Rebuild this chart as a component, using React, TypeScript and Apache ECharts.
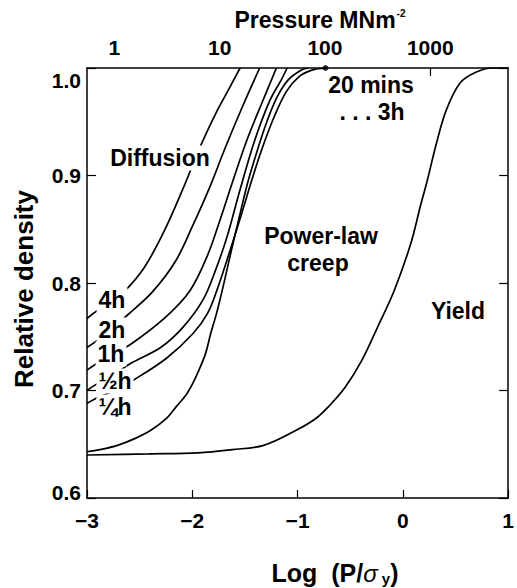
import React, { useEffect, useRef } from 'react';
import * as echarts from 'echarts';

const FONT = '"Liberation Sans", Arial, Helvetica, sans-serif';

// Axis ranges
const X_MIN = -3;
const X_MAX = 1;
const Y_MIN = 0.6;
const Y_MAX = 1.0;

// Top axis: pressure (MN/m^2); log10 of yield stress used to place them
const PRESSURE_TICKS = [1, 10, 100, 1000];
const LOG_SIGMA_Y = 2.74;

// Diffusion curves (x = log(P/sigma_y), y = relative density)
const DIFF_4H: [number, number][] = [
  [-3, 0.767], [-2.907, 0.774], [-2.786, 0.781], [-2.646, 0.792], [-2.459, 0.814],
  [-2.273, 0.847], [-2.087, 0.888], [-1.919, 0.928], [-1.76, 0.961], [-1.649, 0.981], [-1.546, 1.0],
];
const DIFF_2H: [number, number][] = [
  [-3, 0.74], [-2.925, 0.745], [-2.786, 0.755], [-2.618, 0.77], [-2.385, 0.791],
  [-2.161, 0.82], [-1.993, 0.854], [-1.835, 0.889], [-1.686, 0.926], [-1.528, 0.963], [-1.36, 1.0],
];
const DIFF_1H: [number, number][] = [
  [-3, 0.719], [-2.925, 0.724], [-2.767, 0.733], [-2.571, 0.744], [-2.245, 0.769],
  [-2.021, 0.793], [-1.854, 0.826], [-1.742, 0.857], [-1.621, 0.893], [-1.481, 0.933],
  [-1.341, 0.967], [-1.201, 1.0],
];
const DIFF_HALF_H: [number, number][] = [
  [-3, 0.7], [-2.925, 0.705], [-2.758, 0.714], [-2.571, 0.726], [-2.301, 0.74],
  [-2.087, 0.759], [-1.9, 0.784], [-1.779, 0.812], [-1.667, 0.844], [-1.546, 0.887],
  [-1.406, 0.933], [-1.267, 0.969], [-1.155, 0.989], [-1.099, 1.0],
];
const DIFF_QUARTER_H: [number, number][] = [
  [-3, 0.688], [-2.907, 0.693], [-2.739, 0.7], [-2.553, 0.71], [-2.245, 0.73],
  [-1.993, 0.753], [-1.854, 0.772], [-1.76, 0.795], [-1.639, 0.831], [-1.536, 0.863],
  [-1.434, 0.896], [-1.341, 0.924], [-1.229, 0.953], [-1.107, 0.978], [-0.986, 0.992],
  [-0.865, 0.998], [-0.735, 1.0],
];
// Power-law creep curve
const POWER_LAW: [number, number][] = [
  [-3, 0.643], [-2.879, 0.645], [-2.711, 0.649], [-2.552, 0.655], [-2.394, 0.663],
  [-2.245, 0.674], [-2.152, 0.685], [-2.058, 0.696], [-1.993, 0.707], [-1.928, 0.721],
  [-1.872, 0.735], [-1.825, 0.753], [-1.769, 0.772], [-1.704, 0.798], [-1.639, 0.826],
  [-1.564, 0.857], [-1.48, 0.891], [-1.396, 0.919], [-1.303, 0.947], [-1.2, 0.972],
  [-1.089, 0.989], [-0.967, 0.998], [-0.902, 1.0],
];
// Yield curve
const YIELD: [number, number][] = [
  [-3, 0.64], [-2.413, 0.641], [-1.946, 0.642], [-1.62, 0.645], [-1.322, 0.649],
  [-1.014, 0.663], [-0.827, 0.674], [-0.706, 0.685], [-0.548, 0.703], [-0.39, 0.728],
  [-0.24, 0.759], [-0.082, 0.793], [0.076, 0.837], [0.17, 0.873], [0.226, 0.893],
  [0.319, 0.93], [0.413, 0.961], [0.543, 0.986], [0.692, 0.996], [0.851, 1.0], [1.0, 1.0],
];
// Full-density point at 100 MN/m^2
const DOT: [number, number][] = [[-0.735, 1.0]];

const pressurePos = (p: number) => Math.log10(p) - LOG_SIGMA_Y;

const lineSeries = (name: string, data: [number, number][]) => ({
  type: 'line',
  name,
  data,
  symbol: 'none',
  showSymbol: false,
  smooth: 0.35,
  silent: true,
  z: 3,
  lineStyle: { color: '#000', width: 1.7 },
});

const txt = (text: string, x: number, y: number, size = 23, bg = false, extra: any = {}) => ({
  type: 'text',
  x,
  y,
  z: 100,
  ...extra,
  style: {
    text,
    font: `bold ${size}px ${FONT}`,
    fill: '#000',
    align: 'center',
    verticalAlign: 'middle',
    textAlign: 'center',
    textVerticalAlign: 'middle',
    ...(bg ? { backgroundColor: '#fff', padding: [1, 2] } : {}),
  },
});

const axisLineStyle = { color: '#000', width: 1.5 };

export default function App() {
  const ref = useRef<HTMLDivElement>(null);
  useEffect(() => {
    if (!ref.current) return;
    const chart = echarts.init(ref.current, null, { renderer: 'svg' });
    const labelFont = { color: '#000', fontFamily: FONT, fontWeight: 'bold', fontSize: 21 };
    const option: any = {
      animation: false,
      backgroundColor: '#fff',
      grid: { left: 87, right: 1, top: 68, bottom: 90, containLabel: false },
      xAxis: [
        {
          type: 'value', min: X_MIN, max: X_MAX, interval: 1, position: 'bottom',
          axisLine: { show: true, onZero: false, lineStyle: axisLineStyle },
          axisTick: { show: true, inside: true, length: 8, lineStyle: { color: '#000', width: 1.2 } },
          axisLabel: {
            ...labelFont, margin: 12, showMinLabel: true, showMaxLabel: true,
            formatter: (v: number) => (v < 0 ? '\u2212' + Math.abs(v) : String(v)),
          },
          splitLine: { show: false },
        },
        {
          type: 'value', min: X_MIN, max: X_MAX, position: 'top',
          axisLine: { show: true, onZero: false, lineStyle: axisLineStyle },
          axisTick: {
            show: true, inside: true, length: 8, lineStyle: { color: '#000', width: 1.2 },
            customValues: [pressurePos(PRESSURE_TICKS[3])],
          },
          axisLabel: {
            ...labelFont, margin: 10,
            customValues: PRESSURE_TICKS.map(pressurePos),
            formatter: (v: number) => String(Math.round(Math.pow(10, v + LOG_SIGMA_Y))),
          },
          splitLine: { show: false },
        },
      ],
      yAxis: [
        {
          type: 'value', min: Y_MIN, max: Y_MAX, interval: 0.1, position: 'left',
          axisLine: { show: true, onZero: false, lineStyle: axisLineStyle },
          axisTick: { show: true, inside: true, length: 9, lineStyle: { color: '#000', width: 1.2 } },
          axisLabel: {
            ...labelFont, margin: 6,
            formatter: (v: number) => {
              const s = v.toFixed(1);
              if (Math.abs(v - 1) < 1e-6) return `{t|${s}}`;
              if (Math.abs(v - 0.6) < 1e-6) return `{b|${s}}`;
              return `{n|${s}}`;
            },
            rich: {
              n: { ...labelFont },
              t: { ...labelFont, padding: [24, 0, 0, 0] },
              b: { ...labelFont, padding: [0, 0, 12, 0] },
            },
          },
          splitLine: { show: false },
        },
        {
          type: 'value', min: Y_MIN, max: Y_MAX, interval: 0.1, position: 'right',
          axisLine: { show: true, onZero: false, lineStyle: axisLineStyle },
          axisTick: { show: true, inside: true, length: 9, lineStyle: { color: '#000', width: 1.2 } },
          axisLabel: { show: false },
          splitLine: { show: false },
        },
      ],
      series: [
        lineSeries('4h', DIFF_4H),
        lineSeries('2h', DIFF_2H),
        lineSeries('1h', DIFF_1H),
        lineSeries('½h', DIFF_HALF_H),
        lineSeries('¼h', DIFF_QUARTER_H),
        lineSeries('Power-law creep', POWER_LAW),
        lineSeries('Yield', YIELD),
        {
          type: 'scatter', name: '100 MNm-2', data: DOT, symbol: 'circle', symbolSize: 6,
          itemStyle: { color: '#000' }, z: 4, silent: true,
        },
      ],
      graphic: [
        {
          type: 'text', x: 320, y: 20, z: 100,
          style: {
            text: '{a|Pressure MNm}{s|-2}',
            fill: '#000', align: 'center', verticalAlign: 'middle',
            textAlign: 'center', textVerticalAlign: 'middle',
            rich: {
              a: { font: `bold 23px ${FONT}`, fill: '#000' },
              s: { font: `bold 10px ${FONT}`, fill: '#000', verticalAlign: 'top', padding: [0, 0, 10, 1] },
            },
          },
        },
        {
          type: 'text', x: 335, y: 573, z: 100,
          style: {
            text: '{a|Log  (P/}{i|\u03c3}{s| y}{a|)}',
            fill: '#000', align: 'center', verticalAlign: 'middle',
            textAlign: 'center', textVerticalAlign: 'middle',
            rich: {
              a: { font: `bold 25px ${FONT}`, fill: '#000' },
              i: { font: `italic 24px ${FONT}`, fill: '#000' },
              s: { font: `bold 15px ${FONT}`, fill: '#000', verticalAlign: 'bottom' },
            },
          },
        },
        txt('Relative density', 24, 289, 26, false, { rotation: Math.PI / 2 }),
        txt('Diffusion', 160, 158, 23, true),
        txt('4h', 112, 300, 23, true),
        txt('2h', 112, 330, 23, true),
        txt('1h', 111, 354, 23, true),
        txt('\u00bdh', 115, 381, 23, true),
        txt('\u00bch', 115, 407, 23, true),
        txt('Power-law', 321, 236, 23),
        txt('creep', 318, 263, 23),
        txt('Yield', 458, 311, 23),
        txt('20 mins', 371, 85, 23),
        txt('. . . 3h', 372, 112, 23),
      ],
    };
    chart.setOption(option);
    return () => chart.dispose();
  }, []);
  return (
    <div
      ref={ref}
      style={{ position: 'absolute', left: 0, top: 0, width: 517, height: 588, background: '#fff' }}
    />
  );
}
